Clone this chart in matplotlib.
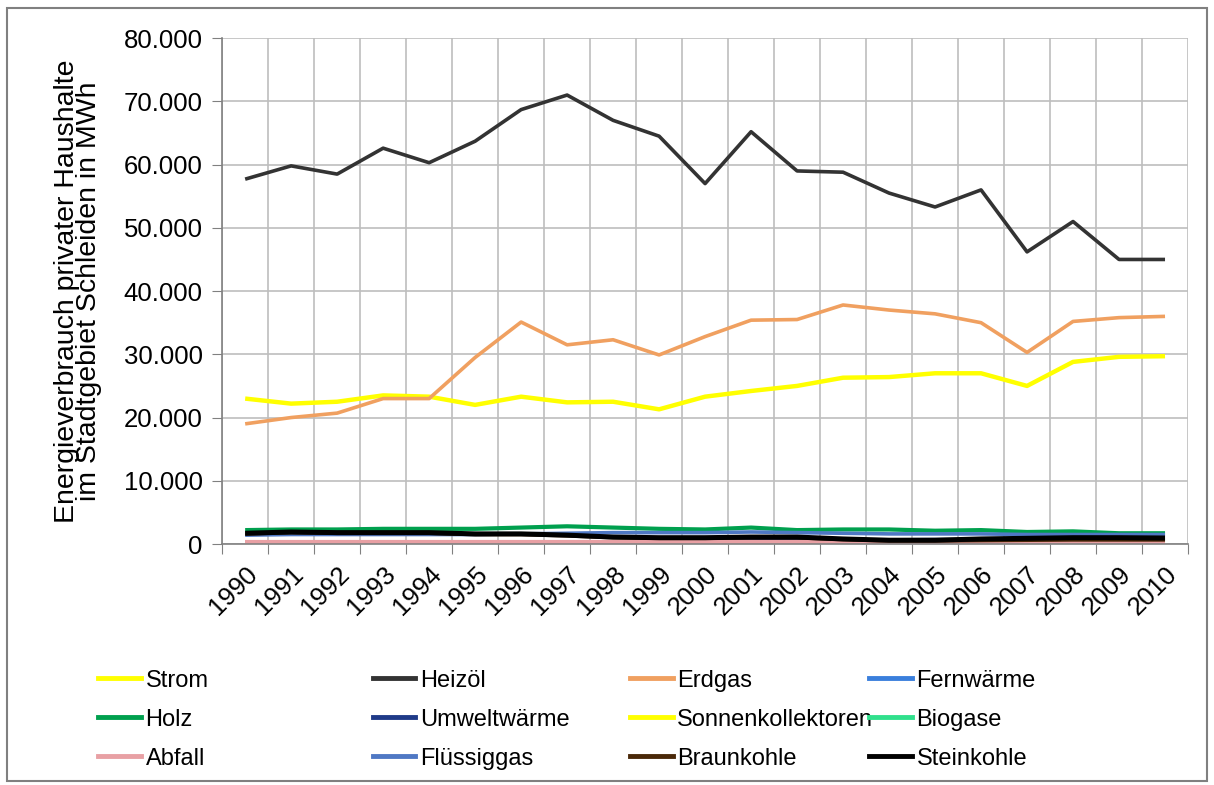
import numpy as np
import matplotlib.pyplot as plt
from matplotlib.lines import Line2D
from matplotlib.patches import Rectangle
from matplotlib.ticker import FuncFormatter, MultipleLocator

plt.rcParams['font.family'] = ['Liberation Sans', 'DejaVu Sans']

years = list(range(1990, 2011))

# energy use of private households, MWh per year
strom = [23000, 22200, 22500, 23500, 23300, 22000, 23300, 22400, 22500, 21300, 23300,
         24200, 25000, 26300, 26400, 27000, 27000, 25000, 28800, 29600, 29700]
heizoel = [57700, 59800, 58500, 62600, 60300, 63700, 68700, 71000, 67000, 64500, 57000,
           65200, 59000, 58800, 55500, 53300, 56000, 46200, 51000, 45000, 45000]
erdgas = [19000, 20000, 20700, 23000, 23000, 29500, 35100, 31500, 32300, 29900, 32800,
          35400, 35500, 37800, 37000, 36400, 35000, 30300, 35200, 35800, 36000]
fernwaerme = [0] * 21
holz = [2200, 2300, 2300, 2400, 2400, 2400, 2600, 2800, 2600, 2400, 2300,
        2600, 2200, 2300, 2300, 2100, 2200, 1900, 2000, 1700, 1700]
umweltwaerme = [100, 100, 150, 150, 200, 200, 250, 300, 350, 400, 450,
                500, 550, 600, 650, 700, 700, 750, 800, 800, 850]
sonnenkoll = [20, 30, 40, 50, 60, 70, 80, 100, 120, 140, 160,
              180, 200, 220, 240, 260, 280, 300, 320, 340, 360]
biogase = [0] * 21
abfall = [300] * 21
fluessiggas = [1400, 1500, 1500, 1500, 1500, 1500, 1600, 1700, 1800, 1800, 1800,
               1900, 1800, 1700, 1600, 1600, 1600, 1500, 1500, 1500, 1500]
braunkohle = [1600, 1800, 1700, 1700, 1700, 1500, 1500, 1300, 1000, 900, 900,
              1000, 1000, 700, 500, 500, 550, 600, 650, 650, 650]
steinkohle = [1700, 1900, 1800, 1800, 1800, 1600, 1600, 1400, 1100, 1000, 1000,
              1100, 1100, 800, 600, 600, 800, 900, 1000, 1000, 950]

series = [
    ('Strom', strom, '#FFFF00', 3.2),
    ('Heizöl', heizoel, '#333333', 2.6),
    ('Erdgas', erdgas, '#F0A060', 2.6),
    ('Fernwärme', fernwaerme, '#3A7FDC', 2.6),
    ('Holz', holz, '#00A04E', 3.0),
    ('Umweltwärme', umweltwaerme, '#1F3A88', 2.6),
    ('Sonnenkollektoren', sonnenkoll, '#FFFF00', 2.6),
    ('Biogase', biogase, '#30E08C', 2.6),
    ('Abfall', abfall, '#E8A0A4', 3.0),
    ('Flüssiggas', fluessiggas, '#4F78C4', 2.6),
    ('Braunkohle', braunkohle, '#4A2808', 2.6),
    ('Steinkohle', steinkohle, '#000000', 3.6),
]

fig = plt.figure(figsize=(12.14, 7.85), dpi=100)
ax = fig.add_axes([0.183, 0.307, 0.7956, 0.6444])

x = np.arange(len(years))
for name, vals, color, lw in series:
    ax.plot(x, vals, color=color, lw=lw, solid_capstyle='butt')

ax.set_xlim(-0.5, len(years) - 0.5)
ax.set_ylim(0, 80000)
ax.yaxis.set_major_locator(MultipleLocator(10000))
ax.yaxis.set_major_formatter(FuncFormatter(lambda v, p: f'{int(v):,}'.replace(',', '.')))

# grid lines sit between the categories, labels at the centres
ax.set_xticks(np.arange(-0.5, len(years), 1.0))
ax.set_xticklabels([])
ax.set_xticks(x, minor=True)
ax.set_xticklabels([str(y) for y in years], minor=True, rotation=45,
                   ha='right', rotation_mode='anchor', fontsize=18.5)
ax.tick_params(axis='x', which='minor', length=0, pad=13)
ax.tick_params(axis='x', which='major', length=7, color='#808080', direction='out')
ax.tick_params(axis='y', length=7, color='#808080', labelsize=18.5, pad=7)

ax.grid(True, which='major', color='#BEBEBE', lw=1.2)
ax.set_axisbelow(True)
for side in ['top', 'right']:
    ax.spines[side].set_visible(False)
for side in ['left', 'bottom']:
    ax.spines[side].set_color('#808080')
    ax.spines[side].set_linewidth(1.2)

ax.set_ylabel('Energieverbrauch privater Haushalte\nim Stadtgebiet Schleiden in MWh',
              fontsize=20.5, linespacing=0.82)
ax.yaxis.set_label_coords(-0.124, 0.5)

# legend: four columns with equal start positions
col_x = [0.081, 0.307, 0.519, 0.716]
for c in range(4):
    handles = []
    for r in range(3):
        name, vals, color, lw = series[r * 4 + c]
        handles.append(Line2D([], [], color=color, lw=3.5, label=name))
    fig.legend(handles=handles, loc='upper left', bbox_to_anchor=(col_x[c], 0.147),
               frameon=False, fontsize=17, handlelength=1.8, handletextpad=0.2,
               labelspacing=0.72, borderaxespad=0, borderpad=0)

fig.add_artist(Rectangle((0.006, 0.005), 0.988, 0.985, transform=fig.transFigure,
                         fill=False, edgecolor='#808080', lw=1.5))

fig.savefig('out.png', dpi=100)
